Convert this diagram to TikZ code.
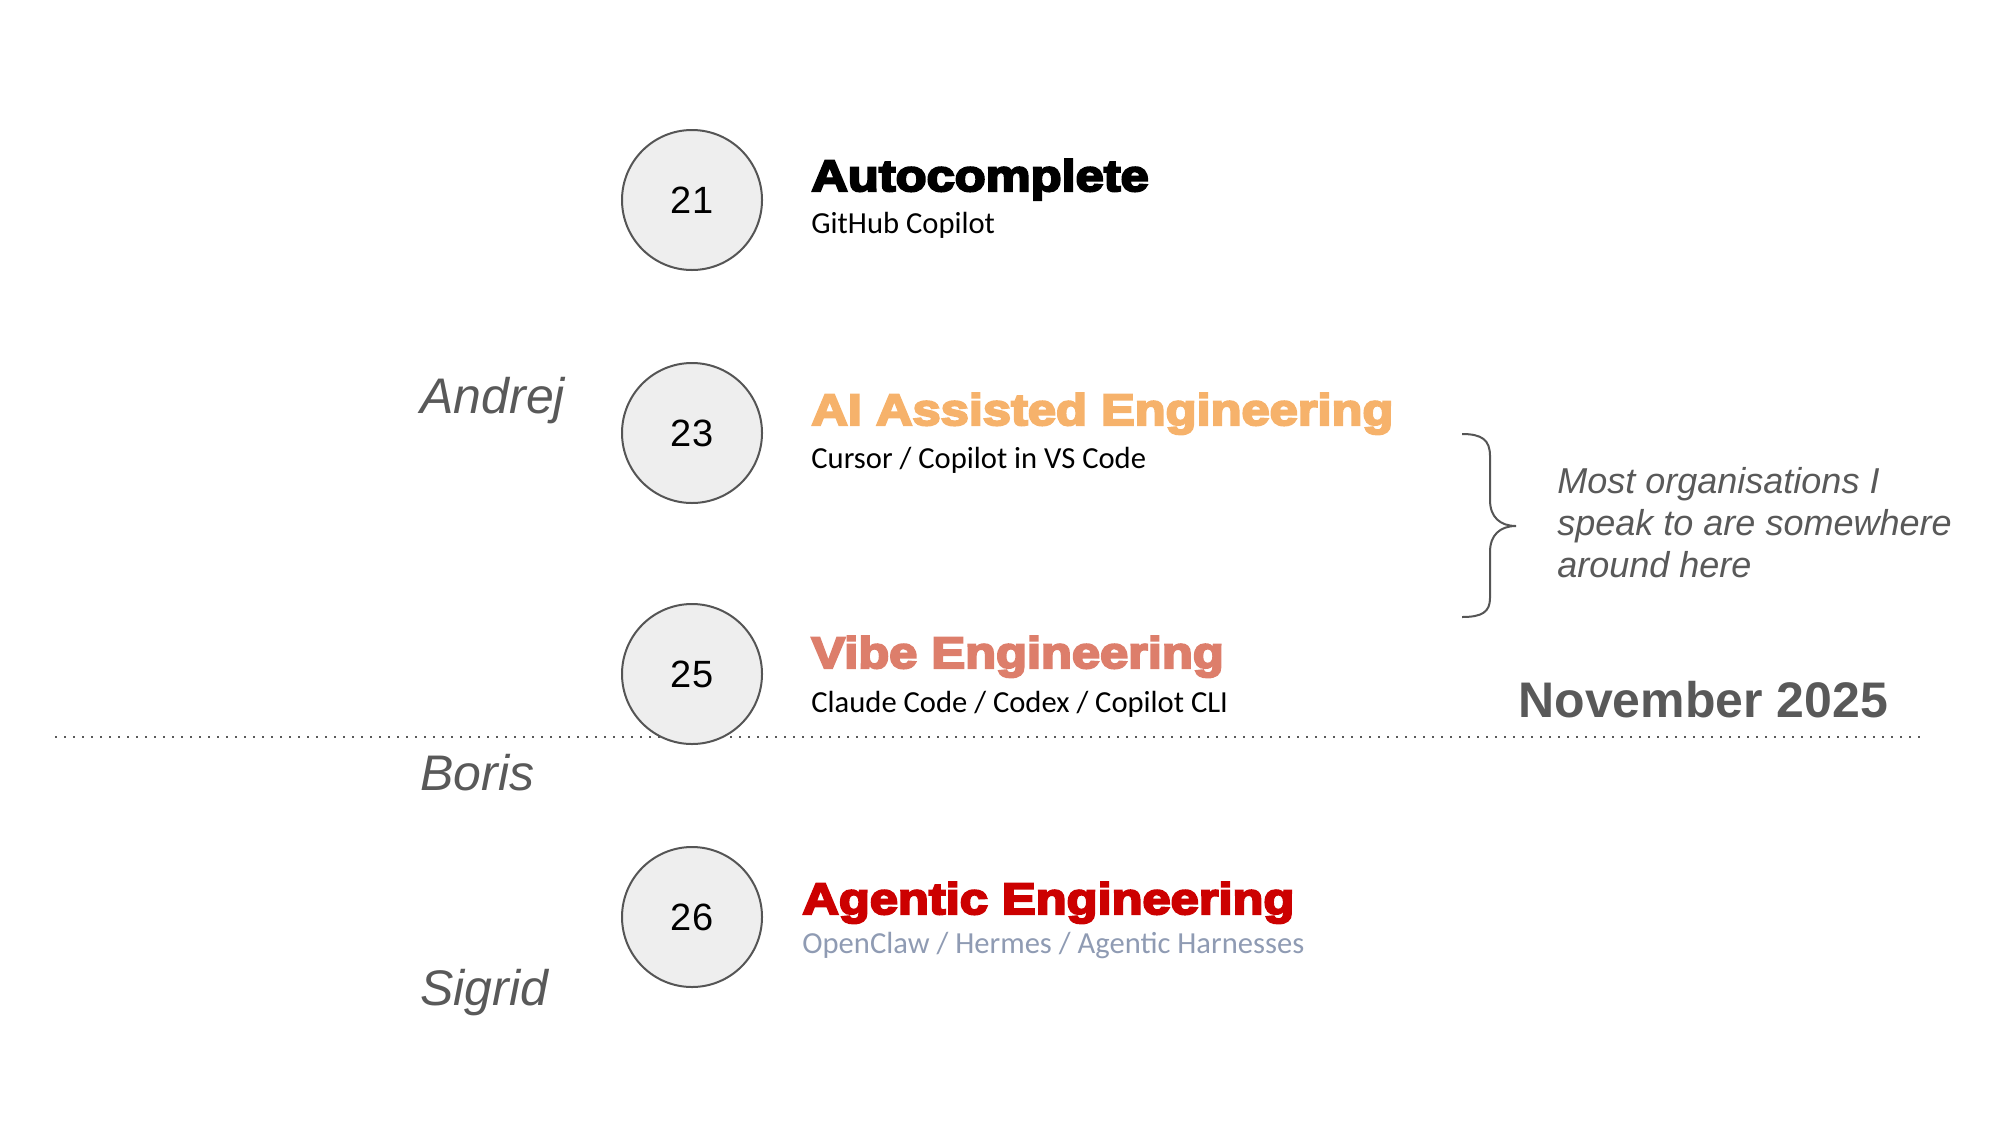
\documentclass[tikz,border=0pt]{standalone}
\usepackage{fontspec}
\setmainfont{Liberation Sans}
\newfontfamily\headfont{Liberation Sans}[UprightFont={* Bold}, UprightFeatures={FakeBold=5}, FakeStretch=1.15]
\newfontfamily\subfont{Carlito}
\usepackage{xcolor}
\definecolor{talkgray}{HTML}{595959}
\definecolor{ringgray}{HTML}{555555}
\definecolor{ringfill}{HTML}{EEEEEE}
\definecolor{assistorange}{HTML}{F6B26B}
\definecolor{vibesalmon}{HTML}{DD7E6B}
\definecolor{agentred}{HTML}{CC0000}
\definecolor{harnessblue}{HTML}{8F9BB3}

\begin{document}
\begin{tikzpicture}[x=0.5pt, y=-0.5pt,
                every node/.style = {inner sep=0pt, anchor=base west},
                year/.style = {circle, draw=ringgray, fill=ringfill, line width=1pt,
                               minimum size=70pt, anchor=center,
                               font=\fontsize{19}{19}\selectfont},
                stage/.style = {font=\headfont\fontsize{22}{22}\selectfont},
                tool/.style = {font=\subfont\fontsize{15.3}{15.3}\selectfont},
                who/.style = {text=talkgray, font=\itshape\fontsize{25}{25}\selectfont}
                ]
                \useasboundingbox (0,0) rectangle (2000,1125);
                \coordinate (cutL) at (55,737);
                \coordinate (cutR) at (1925,737);
                \draw[talkgray, line width=1pt, dash pattern=on 1pt off 3.5pt] (cutL) -- (cutR);

                \node[year] (y21) at (692,200) {21};
                \node[year] (y23) at (692,433) {23};
                \node[year] (y25) at (692,674) {25};
                \node[year] (y26) at (692,917) {26};

                \node[stage] (auto) at (811,191) {Autocomplete};
                \node[tool] (autotool) at (811,233) {GitHub Copilot};
                \node[stage, text=assistorange] (assist) at (811,425) {AI Assisted Engineering};
                \node[tool] (assisttool) at (811,468) {Cursor / Copilot in VS Code};
                \node[stage, text=vibesalmon] (vibe) at (811,668) {Vibe Engineering};
                \node[tool] (vibetool) at (811,712) {Claude Code / Codex / Copilot CLI};
                \node[stage, text=agentred] (agent) at (802,914) {Agentic Engineering};
                \node[tool, text=harnessblue] (agenttool) at (802,953) {OpenClaw / Hermes / Agentic Harnesses};

                \node[who] (andrej) at (420,413) {Andrej};
                \node[who] (boris) at (420,790) {Boris};
                \node[who] (sigrid) at (420,1005) {Sigrid};

                \coordinate (braceT) at (1462,434);
                \coordinate (braceM) at (1516,526);
                \coordinate (braceB) at (1462,617);
                \draw[ringgray, line width=1pt]
                    (braceT) .. controls (1482,434) and (1490,440) .. (1490,456)
                    -- (1490,500) .. controls (1490,517) and (1500,526) .. (braceM)
                    .. controls (1500,526) and (1490,535) .. (1490,552)
                    -- (1490,598) .. controls (1490,612) and (1482,617) .. (braceB);

                \node[text=talkgray, font=\itshape\fontsize{18}{21}\selectfont,
                      align=left, anchor=north west] (most) at (1557,467)
                      {Most organisations I\\speak to are somewhere\\around here};
                \node[text=talkgray, font=\bfseries\fontsize{25}{25}\selectfont] (nov) at (1518,717) {November 2025};
            \end{tikzpicture}
\end{document}
